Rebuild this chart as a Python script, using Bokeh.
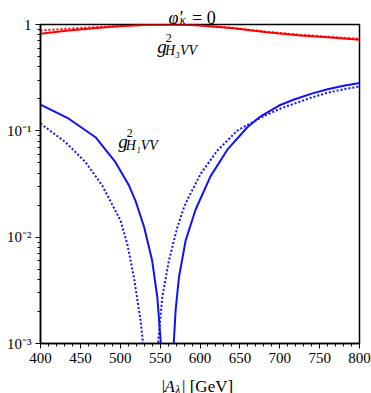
from bokeh.plotting import figure
from bokeh.layouts import column
from bokeh.models import Range1d, FixedTicker, Label
from bokeh.embed import file_html
from bokeh.resources import INLINE

# ---- data ----
a_h3_solid = [400, 435, 470, 494, 520, 540, 560, 580, 600, 642, 684, 726, 760, 800]
g_h3_solid = [0.818, 0.878, 0.925, 0.958, 0.985, 0.996, 1.0, 0.995, 0.979, 0.923, 0.846, 0.788, 0.757, 0.72]

a_h3_dot = [400, 444, 494, 540, 560, 580, 600, 642, 684, 726, 760, 800]
g_h3_dot = [0.878, 0.923, 0.964, 0.993, 1.0, 0.996, 0.982, 0.928, 0.852, 0.800, 0.768, 0.733]

a_h1_solid = [400, 435.5, 469, 494, 511, 519, 530, 540, 546.5, 550.6, 555, 559, 563, 567.3, 569.4,
              573.6, 582, 594.5, 613.3, 634.3, 659.4, 676.1, 699.1, 718, 740, 760, 780, 800]
g_h1_solid = [0.176, 0.130, 0.0871, 0.0507, 0.0306, 0.0221, 0.0124, 0.00603, 0.00272, 0.00107, 2.5e-4,
              1e-6, 2.5e-4, 0.00107, 0.00204, 0.0042, 0.0093, 0.0182, 0.0375, 0.0665, 0.108, 0.137,
              0.173, 0.197, 0.224, 0.246, 0.265, 0.282]

a_h1_dot = [400, 431.4, 456.5, 477.4, 500.4, 508.8, 517.1, 525.5, 528.4, 533, 538, 543, 547.7, 552.7,
            561, 571.6, 579.9, 584.2, 600.8, 621.8, 646.9, 676.1, 699.1, 718, 740, 760, 780, 800]
g_h1_dot = [0.117, 0.0782, 0.0507, 0.0306, 0.0143, 0.00866, 0.0042, 0.00164, 0.00103, 2.5e-4, 1e-6,
            2.1e-4, 0.00107, 0.00272, 0.00603, 0.0124, 0.0191, 0.0225, 0.0394, 0.0653, 0.1007, 0.133,
            0.160, 0.180, 0.206, 0.228, 0.246, 0.261]

x_ticks = [400, 450, 500, 550, 600, 650, 700, 750, 800]
y_ticks = [1e-3, 1e-2, 1e-1, 1]
y_tick_labels = {1e-3: "10\u207b\u00b3", 1e-2: "10\u207b\u00b2", 1e-1: "10\u207b\u00b9", 1: "1"}

FONT = "Liberation Serif"
W = 371
LEFT, RIGHT = 40, 12

xr = Range1d(400, 800)

p = figure(width=W, height=350, y_axis_type="log",
           x_range=xr, y_range=Range1d(1e-3, 1),
           output_backend="svg", toolbar_location=None,
           min_border_left=LEFT, min_border_right=RIGHT, min_border_top=9, min_border_bottom=22)
p.margin = (-9, 0, 0, 0)

p.line(a_h3_solid, g_h3_solid, line_color="#ff0000", line_width=2)
p.line(a_h3_dot, g_h3_dot, line_color="#ff0000", line_width=2, line_dash="2 2")
p.line(a_h1_solid, g_h1_solid, line_color="#1010ff", line_width=2)
p.line(a_h1_dot, g_h1_dot, line_color="#1010ff", line_width=2, line_dash="2 2")

p.xgrid.visible = False
p.ygrid.visible = False
p.outline_line_color = "black"
p.outline_line_width = 1.5
p.outline_line_alpha = 1

p.xaxis.ticker = FixedTicker(ticks=x_ticks, minor_ticks=list(range(400, 801, 10)))
p.yaxis.ticker = FixedTicker(ticks=y_ticks,
                             minor_ticks=[k * 10.0 ** e for e in (-3, -2, -1) for k in range(2, 10)])
p.yaxis.major_label_overrides = y_tick_labels

for ax in (p.xaxis, p.yaxis):
    ax.axis_line_color = "black"
    ax.axis_line_width = 1.5
    ax.major_tick_line_color = "black"
    ax.minor_tick_line_color = "black"
    ax.major_tick_in = 0
    ax.major_tick_out = 5
    ax.minor_tick_in = 0
    ax.minor_tick_out = 3
    ax.major_label_text_font = FONT
    ax.major_label_text_font_size = "15px"
    ax.major_label_text_color = "black"
p.xaxis.major_label_standoff = 4
p.yaxis.major_label_standoff = 4


def strip(height):
    f = figure(width=W, height=height, x_range=xr, y_range=Range1d(0, 1),
               output_backend="svg", toolbar_location=None,
               x_axis_location=None, y_axis_location=None,
               min_border_left=LEFT, min_border_right=RIGHT, min_border_top=0, min_border_bottom=0)
    f.xgrid.visible = False
    f.ygrid.visible = False
    f.outline_line_color = None
    f.border_fill_color = None
    f.background_fill_color = None
    return f


def lab(fig, x, y, t, size, italic=False):
    fig.add_layout(Label(x=x, y=y, text=t, text_font=FONT, text_font_size=size,
                         text_font_style="italic" if italic else "normal",
                         text_baseline="alphabetic", text_align="left", text_color="black"))


# title strip: phi'_kappa = 0   (baseline ~17px from the top); drawn above the plot's top border
top = strip(24)
top.styles = {"z-index": "2", "position": "relative"}
lab(top, 560.6, 0.29, "\u03c6\u2032", "18px", True)
lab(top, 574.5, 0.17, "\u03ba", "12px", True)
lab(top, 590.0, 0.29, "= 0", "18px")

# g^2_{H3VV}
lab(p, 546.3, 0.626, "g", "19px", True)
lab(p, 557.0, 0.74, "2", "12px")
lab(p, 556.0, 0.572, "H\u2083VV", "14px", True)

# g^2_{H1VV}
lab(p, 497.4, 0.080, "g", "19px", True)
lab(p, 508.0, 0.095, "2", "12px")
lab(p, 507.0, 0.0735, "H\u2081VV", "14px", True)

# x axis label strip: |A_lambda| [GeV]
bottom = strip(28)
lab(bottom, 551.9, 0.25, "|", "17px")
lab(bottom, 555.5, 0.25, "A", "17px", True)
lab(bottom, 569.0, 0.14, "\u03bb", "12px", True)
lab(bottom, 577.5, 0.25, "| [GeV]", "17px")

layout = column(top, p, bottom, spacing=0)

open("out.html", "w").write(file_html(layout, INLINE))
